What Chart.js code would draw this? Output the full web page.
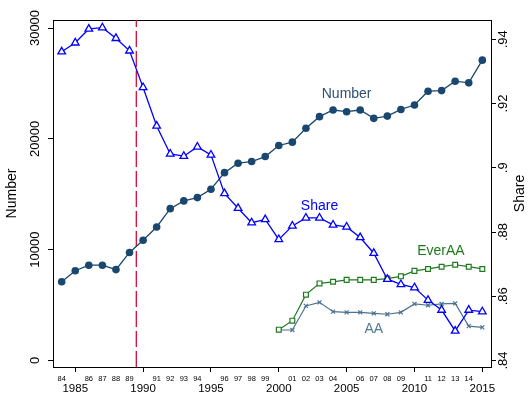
<!DOCTYPE html>
<html><head><meta charset="utf-8">
<script src="https://cdn.jsdelivr.net/npm/chart.js@4/dist/chart.umd.min.js"></script>
<style>html,body{margin:0;padding:0;background:#fff;}canvas{display:block;}</style>
</head><body>
<canvas id="c" width="531" height="393"></canvas>
<script>
// ---- data ----
const years = [1984,1985,1986,1987,1988,1989,1990,1991,1992,1993,1994,1995,1996,1997,1998,1999,2000,2001,2002,2003,2004,2005,2006,2007,2008,2009,2010,2011,2012,2013,2014,2015];
const numberValues = [7100,8100,8600,8600,8200,9750,10850,12050,13700,14400,14700,15450,16950,17800,17950,18400,19400,19700,20950,22000,22600,22450,22600,21850,22050,22650,23050,24300,24350,25200,25050,27100];
const shareValues = [0.9361,0.9389,0.9432,0.9436,0.9403,0.9364,0.9250,0.9130,0.9043,0.9036,0.9065,0.9040,0.8920,0.8874,0.8829,0.8839,0.8777,0.8819,0.8844,0.8844,0.8822,0.8816,0.8783,0.8734,0.8653,0.8637,0.8627,0.8588,0.8557,0.8492,0.8557,0.8552];
const aaYears = [2000,2001,2002,2003,2004,2005,2006,2007,2008,2009,2010,2011,2012,2013,2014,2015];
const everAAValues = [0.8496,0.8524,0.8605,0.8640,0.8645,0.8651,0.8651,0.8651,0.8655,0.8662,0.8679,0.8685,0.8692,0.8698,0.8692,0.8685];
const aaValues = [0.8495,0.8495,0.8570,0.8581,0.8552,0.8550,0.8550,0.8547,0.8544,0.8550,0.8576,0.8572,0.8576,0.8578,0.8507,0.8503];
const numberTicks = [0,10000,20000,30000];
const shareTicks = [0.84,0.86,0.88,0.90,0.92,0.94];
const majorYearTicks = [1985,1990,1995,2000,2005,2010,2015];
const cutoffYear = 1989.5;
const seriesLabels = [
  {text:'Number', x:2005.0, y:24000, axis:'yL', color:'#2b5173'},
  {text:'Share',  x:2003.0, y:0.8881, axis:'yR', color:'#0000ff'},
  {text:'EverAA', x:2011.95, y:0.8741, axis:'yR', color:'#1f7a1f'},
  {text:'AA',     x:2007.0, y:0.8498, axis:'yR', color:'#4f7b95'}
];

// ---- styling / layout ----
const FONT = "'Liberation Sans', Arial, sans-serif";
Chart.defaults.font.family = FONT;
Chart.defaults.color = '#000';
const NAVY = '#1a476f', BLUE = '#0000ff', GREEN = '#1f7a1f', SLATE = '#4a7590', RED = '#d0103c';
const X_MIN = 1983.36, X_MAX = 2015.64;
const YL_MIN = -586, YL_MAX = 30722;
const YR_MIN = 0.83798, YR_MAX = 0.94599;
const TICK_FS = 13;
const fmtShare = v => String(+v.toFixed(2)).replace(/^0/, '');
const mctx = document.createElement('canvas').getContext('2d');
const textW = (t, s) => { mctx.font = s + 'px ' + FONT; return mctx.measureText(t).width; };
const leftWidest = Math.max(...numberTicks.map(v => textW(String(v), TICK_FS)));
const rightWidest = Math.max(...shareTicks.map(v => textW(fmtShare(v), TICK_FS)));
const leftPad = 13 - leftWidest / 2;
const rightPad = 7.3 - rightWidest / 2;

const pts = (xs, ys) => xs.map((x, i) => ({x, y: ys[i]}));

const annot = {
  id: 'annot',
  afterDatasetsDraw(chart) {
    const ctx = chart.ctx, xs = chart.scales.x, ca = chart.chartArea;
    ctx.save();
    ctx.font = '14px ' + FONT;
    ctx.textAlign = 'center';
    ctx.textBaseline = 'middle';
    for (const l of seriesLabels) {
      ctx.fillStyle = l.color;
      ctx.fillText(l.text, xs.getPixelForValue(l.x), chart.scales[l.axis].getPixelForValue(l.y));
    }
    ctx.restore();
  },
  afterDraw(chart) {
    const ctx = chart.ctx, ca = chart.chartArea;
    ctx.save();
    ctx.font = '14px ' + FONT;
    ctx.textAlign = 'center';
    ctx.textBaseline = 'middle';
    ctx.fillStyle = '#000';
    ctx.translate(chart.scales.yR.right - 11, (ca.top + ca.bottom) / 2);
    ctx.rotate(-Math.PI / 2);
    ctx.fillText('Share', 0, 0);
    ctx.restore();
  }
};

new Chart(document.getElementById('c').getContext('2d'), {
  type: 'line',
  data: {
    datasets: [
      {label:'Number', data: pts(years, numberValues), xAxisID:'x', yAxisID:'yL',
       borderColor: NAVY, backgroundColor: NAVY, borderWidth: 1.3,
       pointStyle:'circle', pointRadius: 3.8, pointBorderWidth: 0, pointBackgroundColor: NAVY, order: 2},
      {label:'Share', data: pts(years, shareValues), xAxisID:'x', yAxisID:'yR',
       borderColor: BLUE, backgroundColor:'#fff', borderWidth: 1.3,
       pointStyle:'triangle', pointRadius: 4.4, pointBorderWidth: 1.3, pointBackgroundColor:'#fff', pointBorderColor: BLUE, order: 1},
      {label:'EverAA', data: pts(aaYears, everAAValues), xAxisID:'x', yAxisID:'yR',
       borderColor: GREEN, backgroundColor:'#fff', borderWidth: 1.2,
       pointStyle:'rect', pointRadius: 3.4, pointBorderWidth: 1.2, pointBackgroundColor:'#fff', pointBorderColor: GREEN, order: 3},
      {label:'AA', data: pts(aaYears, aaValues), xAxisID:'x', yAxisID:'yR',
       borderColor: SLATE, backgroundColor: SLATE, borderWidth: 1.2,
       pointStyle:'crossRot', pointRadius: 2.8, pointBorderWidth: 1.2, pointBorderColor: SLATE, order: 4},
      {label:'cutoff', data: [{x: cutoffYear, y: YL_MIN}, {x: cutoffYear, y: YL_MAX}], xAxisID:'x', yAxisID:'yL',
       borderColor: RED, borderWidth: 1.3, borderDash: [16, 4], pointRadius: 0, order: 9}
    ]
  },
  options: {
    responsive: false,
    animation: false,
    devicePixelRatio: 1,
    events: [],
    layout: {padding: {top: 20, left: 0, right: 0, bottom: 0}},
    elements: {line: {tension: 0, fill: false}},
    plugins: {legend: {display: false}, tooltip: {enabled: false}},
    scales: {
      x: {
        type: 'linear', position: 'bottom', min: X_MIN, max: X_MAX, weight: 0,
        afterBuildTicks: s => { s.ticks = years.map(v => ({value: v})); },
        afterFit: s => { s.height = 16; },
        grid: {display: true, drawOnChartArea: false, drawTicks: true, tickLength: 5, tickWidth: 1,
               tickColor: c => (c.tick && c.tick.value % 5 === 0) ? '#000' : 'rgba(0,0,0,0)'},
        border: {display: true, color: '#000', width: 1},
        ticks: {autoSkip: false, minRotation: 0, maxRotation: 0, padding: 2, font: {size: 7.5},
                callback: v => (v % 5 === 0) ? '' : String(v % 100).padStart(2, '0')}
      },
      x2: {
        type: 'linear', position: 'bottom', min: X_MIN, max: X_MAX, weight: 1,
        afterBuildTicks: s => { s.ticks = majorYearTicks.map(v => ({value: v})); },
        afterFit: s => { s.height = 10; },
        grid: {display: false, drawTicks: false},
        border: {display: false},
        ticks: {autoSkip: false, minRotation: 0, maxRotation: 0, padding: -1, font: {size: 11.5},
                callback: v => String(v)}
      },
      xTop: {
        type: 'linear', position: 'top', min: X_MIN, max: X_MAX,
        afterBuildTicks: s => { s.ticks = majorYearTicks.map(v => ({value: v})); },
        afterFit: s => { s.height = 0; },
        grid: {display: false, drawTicks: false},
        border: {display: true, color: '#000', width: 1},
        ticks: {display: false}
      },
      yL: {
        type: 'linear', position: 'left', min: YL_MIN, max: YL_MAX,
        afterBuildTicks: s => { s.ticks = numberTicks.map(v => ({value: v})); },
        afterFit: s => { s.width = 53; },
        grid: {display: true, drawOnChartArea: false, drawTicks: true, tickLength: 5, tickColor: '#000'},
        border: {display: true, color: '#000', width: 1},
        ticks: {minRotation: 90, maxRotation: 90, crossAlign: 'center', padding: leftPad,
                font: {size: TICK_FS}, callback: v => String(v)},
        title: {display: true, text: 'Number', font: {size: 14}, padding: {top: 3.6, bottom: 0}}
      },
      yR: {
        type: 'linear', position: 'right', min: YR_MIN, max: YR_MAX,
        afterBuildTicks: s => { s.ticks = shareTicks.map(v => ({value: v})); },
        afterFit: s => { s.width = 40; },
        grid: {display: true, drawOnChartArea: false, drawTicks: true, tickLength: 5, tickColor: '#000'},
        border: {display: true, color: '#000', width: 1},
        ticks: {minRotation: 90, maxRotation: 90, crossAlign: 'center', padding: rightPad,
                font: {size: TICK_FS}, callback: v => fmtShare(v)}
      }
    }
  },
  plugins: [annot]
});
</script>
</body></html>
